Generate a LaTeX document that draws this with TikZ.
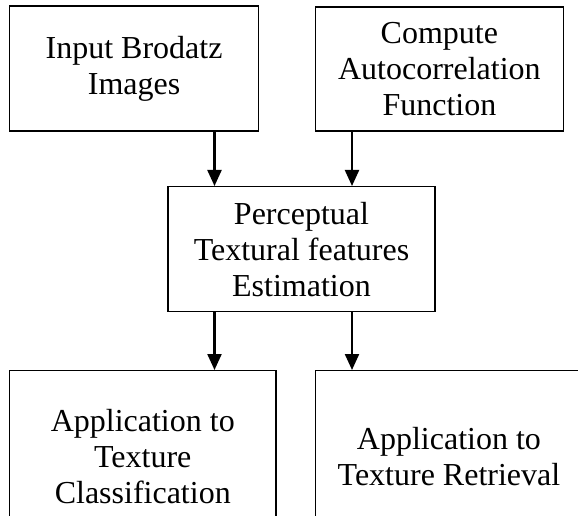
\documentclass[tikz,border=0pt]{standalone}
\usepackage{fontspec}
\setmainfont{Liberation Serif}
\usetikzlibrary{arrows.meta}

\begin{document}
\begin{tikzpicture}[
    x=1pt, y=1pt,
    every node/.style={
        rectangle,
        draw=black,
        line width=1.4pt,
        align=center,
        inner sep=0pt,
        font=\fontsize{32}{36}\selectfont
    },
    flow/.style={
        -{Triangle[width=14pt,length=16pt]},
        line width=2.2pt
    }
]

\clip (0,0) rectangle (578,515);

\node[minimum width=249pt, minimum height=125pt] (input) at (134.1,446.5) {Input Brodatz\\Images};
\node[minimum width=248pt, minimum height=124pt] (acf) at (439.4,446) {Compute\\Autocorrelation\\Function};

\node[minimum width=267pt, minimum height=125pt] (ptf) at (301.5,265.8) {Perceptual\\Textural features\\Estimation};

\node[minimum width=266.5pt, minimum height=172pt, anchor=north] (cls) at (142.75,145) {Application to\\Texture\\Classification};
\node[minimum width=266.5pt, minimum height=172pt, anchor=north] (ret) at (448.95,145) {Application to\\Texture Retrieval};

\coordinate (lcol) at (214.5,0);
\coordinate (rcol) at (352,0);

\draw[flow] (input.south -| lcol) -- (ptf.north -| lcol);
\draw[flow] (acf.south -| rcol) -- (ptf.north -| rcol);
\draw[flow] (ptf.south -| lcol) -- (cls.north -| lcol);
\draw[flow] (ptf.south -| rcol) -- (ret.north -| rcol);

\end{tikzpicture}
\end{document}
